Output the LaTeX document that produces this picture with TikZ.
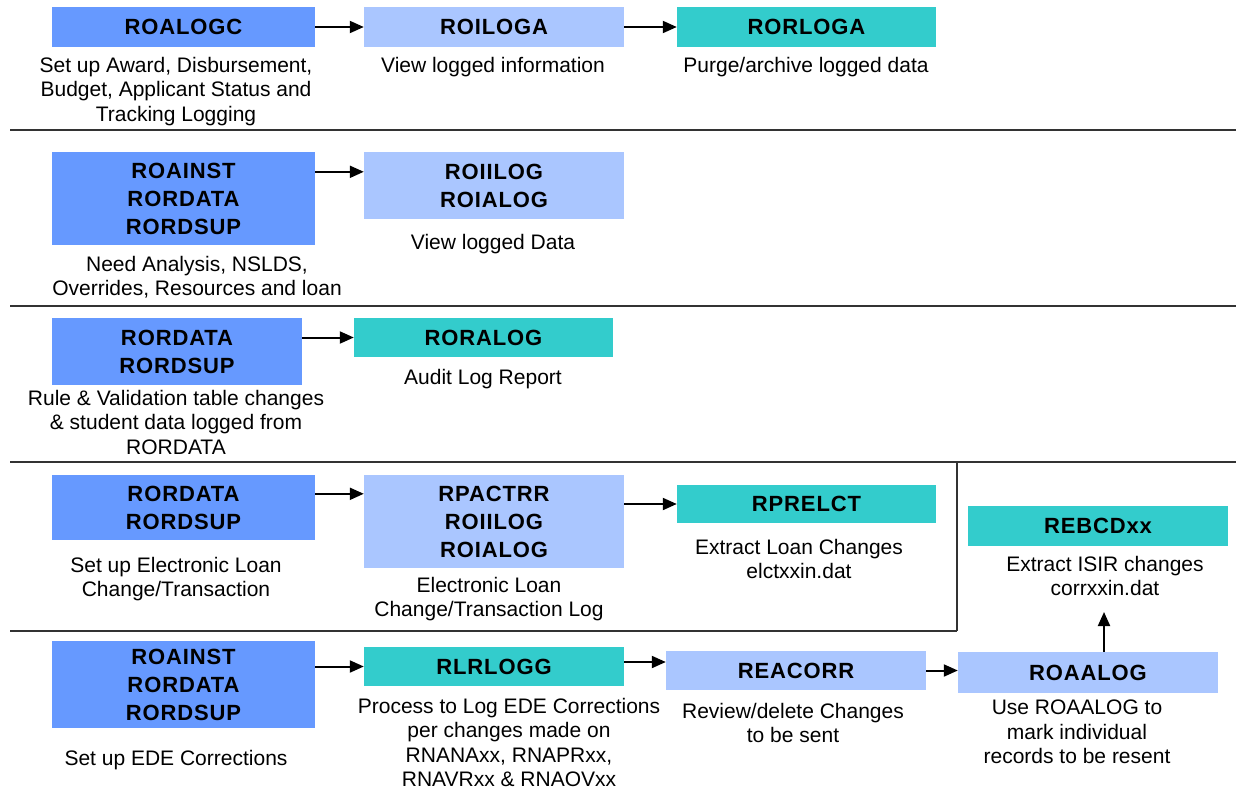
\documentclass[tikz,border=0pt]{standalone}
\usepackage{fontspec}
\usetikzlibrary{arrows.meta}
\setmainfont{Liberation Sans}
\newfontfamily\boxfont[LetterSpace=4]{Liberation Sans Bold}
\definecolor{dblue}{HTML}{6699FF}
\definecolor{lblue}{HTML}{AAC6FF}
\definecolor{tealc}{HTML}{33CCCC}
\definecolor{rulegray}{HTML}{333333}
\tikzset{
  box/.style={inner sep=0pt, align=center, font=\boxfont\fontsize{22}{28}\selectfont},
  darkbox/.style={box, fill=dblue},
  lightbox/.style={box, fill=lblue},
  tealbox/.style={box, fill=tealc},
  lbl/.style={inner sep=0pt, align=center, anchor=north, font=\fontsize{21}{24.5}\selectfont},
  arr/.style={-{Triangle[length=14pt,width=12pt]}, line width=2pt},
  rulel/.style={line width=2.4pt, draw=rulegray},
  rulev/.style={line width=1.8pt, draw=rulegray}
}
\begin{document}
\begin{tikzpicture}[x=1pt,y=-1pt]
\useasboundingbox (0,0) rectangle (1236,789);
% rules
\draw[rulel] (10,130) -- (1236,130);
\draw[rulel] (10,306) -- (1236,306);
\draw[rulel] (10,462) -- (1236,462);
\draw[rulel] (10,631) -- (957,631);
\draw[rulev] (957,462) -- (957,631);

% row 1
\node[darkbox, minimum width=263pt, minimum height=40pt] (b11) at (183.5,27) {ROALOGC};
\node[lightbox, minimum width=260pt, minimum height=40pt] (b12) at (494,27) {ROILOGA};
\node[tealbox, minimum width=259pt, minimum height=40pt] (b13) at (806.5,27) {RORLOGA};
\draw[arr] (b11.east) -- (b12.west);
\draw[arr] (b12.east) -- (b13.west);
\node[lbl] (l11) at (176,57) {Set up Award, Disbursement,\\Budget, Applicant Status and\\Tracking Logging};
\node[lbl] (l12) at (493,57) {View logged information};
\node[lbl] (l13) at (806,57) {Purge/archive logged data};

% row 2
\node[darkbox, minimum width=263pt, minimum height=93pt] (b21) at (183.5,198.5) {ROAINST\\RORDATA\\RORDSUP};
\node[lightbox, minimum width=260pt, minimum height=67pt] (b22) at (494,185.5) {ROIILOG\\ROIALOG};
\draw[arr] ([yshift=-20pt]b21.north east) coordinate (s21) -- (s21 -| b22.west);
\node[lbl] (l21) at (197,256) {Need Analysis, NSLDS,\\Overrides, Resources and loan};
\node[lbl] (l22) at (493,234) {View logged Data};

% row 3
\node[darkbox, minimum width=250pt, minimum height=67pt] (b31) at (177,351.5) {RORDATA\\RORDSUP};
\node[tealbox, minimum width=259pt, minimum height=39pt] (b32) at (483.5,337.5) {RORALOG};
\draw[arr] (b32.west -| b31.east) -- (b32.west);
\node[lbl] (l31) at (176,390) {Rule \& Validation table changes\\\& student data logged from\\RORDATA};
\node[lbl] (l32) at (483,369) {Audit Log Report};

% row 4
\node[darkbox, minimum width=263pt, minimum height=65pt] (b41) at (183.5,507.5) {RORDATA\\RORDSUP};
\node[lightbox, minimum width=260pt, minimum height=93pt] (b42) at (494,521.5) {RPACTRR\\ROIILOG\\ROIALOG};
\node[tealbox, minimum width=259pt, minimum height=38pt] (b43) at (806.5,504) {RPRELCT};
\node[tealbox, minimum width=260pt, minimum height=40pt] (b44) at (1098,526) {REBCDxx};
\draw[arr] ([yshift=-19pt]b41.north east) coordinate (s41) -- (s41 -| b42.west);
\draw[arr] (b43.west -| b42.east) -- (b43.west);
\node[lbl] (l41) at (176,557) {Set up Electronic Loan\\Change/Transaction};
\node[lbl] (l42) at (489,577) {Electronic Loan\\Change/Transaction Log};
\node[lbl] (l43) at (799,539) {Extract Loan Changes\\elctxxin.dat};
\node[lbl] (l44) at (1105,556) {Extract ISIR changes\\corrxxin.dat};

% row 5
\node[darkbox, minimum width=263pt, minimum height=87pt] (b51) at (183.5,684.5) {ROAINST\\RORDATA\\RORDSUP};
\node[tealbox, minimum width=260pt, minimum height=39pt] (b52) at (494,666.5) {RLRLOGG};
\node[lightbox, minimum width=260pt, minimum height=39pt] (b53) at (796,670.5) {REACORR};
\node[lightbox, minimum width=260pt, minimum height=41pt] (b54) at (1088,672.5) {ROAALOG};
\draw[arr] (b52.west -| b51.east) -- (b52.west);
\draw[arr] ([yshift=4.5pt]b52.east) coordinate (s52) -- (s52 -| b53.west);
\draw[arr] (b53.east) -- (b53.east -| b54.west);
\coordinate (up) at (1104,612);
\draw[arr] (b54.north -| up) -- (up);
\node[lbl] (l51) at (176,750) {Set up EDE Corrections};
\node[lbl] (l52) at (509,698) {Process to Log EDE Corrections\\per changes made on\\RNANAxx, RNAPRxx,\\RNAVRxx \& RNAOVxx};
\node[lbl] (l53) at (793,703) {Review/delete Changes\\to be sent};
\node[lbl] (l54) at (1077,700) {Use ROAALOG to\\mark individual\\records to be resent};
\end{tikzpicture}
\end{document}
